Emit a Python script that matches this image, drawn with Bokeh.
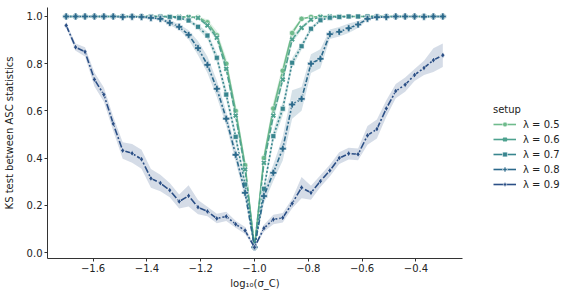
from bokeh.plotting import figure
from bokeh.models import Range1d, Legend, LegendItem, FixedTicker, ColumnDataSource
from bokeh.layouts import row
from bokeh.embed import file_html
from bokeh.resources import INLINE

log_sigma = [-1.7, -1.665, -1.63, -1.595, -1.56, -1.525, -1.49, -1.455, -1.42, -1.385,
             -1.35, -1.315, -1.28, -1.245, -1.21, -1.175, -1.14, -1.105, -1.07, -1.035,
             -1.0, -0.965, -0.93, -0.895, -0.86, -0.825, -0.79, -0.755, -0.72, -0.685,
             -0.65, -0.615, -0.58, -0.545, -0.51, -0.475, -0.44, -0.405, -0.37, -0.335, -0.3]

lam_05 = [1.0, 1.0, 1.0, 1.0, 1.0, 1.0, 1.0, 1.0, 1.0, 1.0, 1.0, 1.0, 0.999, 0.998, 0.997,
          0.975, 0.92, 0.80, 0.60, 0.37, 0.022, 0.40, 0.61, 0.77, 0.93, 0.99, 0.998, 1.0,
          1.0, 1.0, 1.0, 1.0, 1.0, 1.0, 1.0, 1.0, 1.0, 1.0, 1.0, 1.0, 1.0]
hw_05 = [0, 0, 0, 0, 0, 0, 0, 0, 0, 0, 0, 0, 0.002, 0.003, 0.005, 0.012, 0.02, 0.025,
         0.03, 0.025, 0.005, 0.025, 0.03, 0.025, 0.015, 0.006, 0.002, 0, 0, 0, 0, 0, 0,
         0, 0, 0, 0, 0, 0, 0, 0]

lam_06 = [1.0, 1.0, 1.0, 1.0, 1.0, 1.0, 1.0, 1.0, 1.0, 1.0, 1.0, 0.999, 0.998, 0.997, 0.994,
          0.962, 0.91, 0.778, 0.58, 0.352, 0.022, 0.38, 0.58, 0.733, 0.903, 0.952, 0.987,
          0.998, 1.0, 1.0, 1.0, 1.0, 1.0, 1.0, 1.0, 1.0, 1.0, 1.0, 1.0, 1.0, 1.0]
hw_06 = [0, 0, 0, 0, 0, 0, 0, 0, 0, 0, 0, 0.002, 0.002, 0.003, 0.005, 0.01, 0.015, 0.02,
         0.025, 0.02, 0.005, 0.02, 0.025, 0.02, 0.015, 0.01, 0.005, 0.002, 0, 0, 0, 0, 0,
         0, 0, 0, 0, 0, 0, 0, 0]

lam_07 = [1.0, 1.0, 1.0, 1.0, 1.0, 1.0, 1.0, 1.0, 1.0, 1.0, 0.999, 0.998, 0.994, 0.983,
          0.956, 0.919, 0.825, 0.669, 0.49, 0.288, 0.022, 0.27, 0.493, 0.609, 0.804, 0.874,
          0.948, 0.984, 0.995, 0.998, 1.0, 1.0, 1.0, 1.0, 1.0, 1.0, 1.0, 1.0, 1.0, 1.0, 1.0]
hw_07 = [0, 0, 0, 0, 0, 0, 0, 0, 0, 0, 0.002, 0.002, 0.004, 0.006, 0.01, 0.015, 0.02, 0.025,
         0.025, 0.02, 0.005, 0.02, 0.025, 0.03, 0.02, 0.015, 0.01, 0.005, 0.003, 0.002, 0,
         0, 0, 0, 0, 0, 0, 0, 0, 0, 0]

lam_08 = [1.0, 1.0, 1.0, 1.0, 1.0, 1.0, 0.998, 0.999, 0.998, 0.994, 0.99, 0.973, 0.956,
          0.922, 0.866, 0.795, 0.694, 0.567, 0.414, 0.253, 0.022, 0.239, 0.338, 0.44, 0.627,
          0.651, 0.80, 0.821, 0.925, 0.935, 0.95, 0.966, 0.99, 0.997, 0.998, 1.0, 1.0, 1.0,
          0.999, 1.0, 1.0]
hw_08 = [0.001, 0.001, 0.001, 0.001, 0.001, 0.001, 0.002, 0.002, 0.002, 0.003, 0.005, 0.01,
         0.012, 0.02, 0.03, 0.035, 0.035, 0.03, 0.03, 0.025, 0.005, 0.03, 0.035, 0.05, 0.06,
         0.05, 0.04, 0.04, 0.02, 0.02, 0.02, 0.015, 0.005, 0.003, 0.002, 0.001, 0.001, 0.001,
         0.001, 0.001, 0.001]

lam_09 = [0.962, 0.870, 0.850, 0.733, 0.669, 0.545, 0.432, 0.420, 0.395, 0.314, 0.294,
          0.264, 0.216, 0.240, 0.192, 0.174, 0.144, 0.153, 0.120, 0.093, 0.022, 0.103,
          0.140, 0.147, 0.208, 0.275, 0.253, 0.302, 0.347, 0.400, 0.419, 0.416, 0.496,
          0.523, 0.610, 0.684, 0.711, 0.752, 0.782, 0.815, 0.836]
hw_09 = [0.01, 0.015, 0.02, 0.03, 0.03, 0.03, 0.035, 0.04, 0.04, 0.04, 0.035, 0.03, 0.03,
         0.045, 0.03, 0.02, 0.02, 0.02, 0.015, 0.015, 0.005, 0.015, 0.02, 0.02, 0.02, 0.045,
         0.03, 0.025, 0.025, 0.025, 0.025, 0.025, 0.04, 0.04, 0.035, 0.03, 0.03, 0.025, 0.03,
         0.05, 0.05]

labels = ["λ = 0.5", "λ = 0.6", "λ = 0.7", "λ = 0.8", "λ = 0.9"]
colors = ["#6fbb8c", "#4ea28f", "#38858e", "#2c6a8c", "#2b4f86"]
markers = ["circle", "x", "square", "plus", "diamond"]
sizes = [5.5, 5.5, 5, 7, 6]
dashes = ["solid", "6 2", "2 2", "5 2 2 2", "7 2 2 2"]
series = [lam_05, lam_06, lam_07, lam_08, lam_09]
halfw = [hw_05, hw_06, hw_07, hw_08, hw_09]

x_ticks = [-1.6, -1.4, -1.2, -1.0, -0.8, -0.6, -0.4]
x_tick_labels = ["−1.6", "−1.4", "−1.2", "−1.0", "−0.8", "−0.6", "−0.4"]
y_ticks = [0.0, 0.2, 0.4, 0.6, 0.8, 1.0]
y_tick_labels = ["0.0", "0.2", "0.4", "0.6", "0.8", "1.0"]

FONT = "DejaVu Sans"
TXT = "#222222"

p = figure(frame_width=415, frame_height=251, output_backend="svg", toolbar_location=None,
           x_range=Range1d(-1.7695, -0.2268), y_range=Range1d(-0.0254, 1.038),
           min_border_left=46, min_border_right=5, min_border_top=7, min_border_bottom=33)
p.outline_line_color = None
p.xgrid.visible = False
p.ygrid.visible = False

for ax in (p.xaxis[0], p.yaxis[0]):
    ax.axis_line_color = "#333333"
    ax.major_tick_line_color = "#333333"
    ax.major_tick_out = 3
    ax.major_tick_in = 0
    ax.minor_tick_line_color = None
    ax.major_label_text_font = FONT
    ax.major_label_text_font_size = "10px"
    ax.major_label_text_color = TXT
    ax.axis_label_text_font = FONT
    ax.axis_label_text_font_size = "10px"
    ax.axis_label_text_font_style = "normal"
    ax.axis_label_text_color = TXT
    ax.major_label_standoff = 2

p.xaxis.ticker = FixedTicker(ticks=x_ticks)
p.xaxis.major_label_overrides = dict(zip(x_ticks, x_tick_labels))
p.yaxis.ticker = FixedTicker(ticks=y_ticks)
p.yaxis.major_label_overrides = dict(zip(y_ticks, y_tick_labels))
p.xaxis.axis_label = "log₁₀(σ_C)"
p.yaxis.axis_label = "KS test between ASC statistics"
p.xaxis.axis_label_standoff = 3
p.yaxis.axis_label_standoff = 9

# legend panel
p2 = figure(width=96, height=p.frame_height + 40, output_backend="svg", toolbar_location=None,
            x_range=Range1d(0, 1), y_range=Range1d(0, 1),
            x_axis_location=None, y_axis_location=None, min_border=0)
p2.outline_line_color = None
p2.xgrid.visible = False
p2.ygrid.visible = False

items = []
for vals, hw, col, mk, sz, dash, lab in zip(series, halfw, colors, markers, sizes, dashes, labels):
    lo = [v - h for v, h in zip(vals, hw)]
    hi = [min(v + h, 1.0 + h * 0.3) for v, h in zip(vals, hw)]
    src = ColumnDataSource(dict(x=log_sigma, y=vals, lo=lo, hi=hi))
    p.varea(x="x", y1="lo", y2="hi", source=src, fill_color=col, fill_alpha=0.2)
    p.line("x", "y", source=src, line_color=col, line_width=1.6, line_dash=dash)
    dummy = ColumnDataSource(dict(x=[-5.0], y=[-5.0]))
    ln2 = p2.line("x", "y", source=dummy, line_color=col, line_width=1.6)
    if mk == "x":
        p.scatter("x", "y", source=src, marker="x", size=sz, line_color="white", line_width=3.5)
        p.scatter("x", "y", source=src, marker="x", size=sz, line_color=col, line_width=2)
        sc2 = p2.scatter("x", "y", source=dummy, marker="x", size=sz, line_color=col, line_width=2)
    else:
        p.scatter("x", "y", source=src, marker=mk, size=sz, fill_color=col,
                  line_color="white", line_width=0.6)
        sc2 = p2.scatter("x", "y", source=dummy, marker=mk, size=sz, fill_color=col,
                         line_color="white", line_width=0.6)
    items.append(LegendItem(label=lab, renderers=[ln2, sc2]))

legend = Legend(items=items, location=(26, 68), title="setup")
legend.title_text_font = FONT
legend.title_text_font_size = "10px"
legend.title_text_font_style = "normal"
legend.title_text_color = TXT
legend.title_standoff = 3
legend.label_text_font = FONT
legend.label_text_font_size = "10px"
legend.label_text_color = TXT
legend.glyph_width = 23
legend.glyph_height = 12
legend.label_height = 12
legend.spacing = 3
legend.padding = 0
legend.margin = 0
legend.label_standoff = 7
legend.border_line_alpha = 0
legend.background_fill_alpha = 0
p2.add_layout(legend, "center")

open("out.html", "w").write(file_html(row(p, p2), INLINE))
